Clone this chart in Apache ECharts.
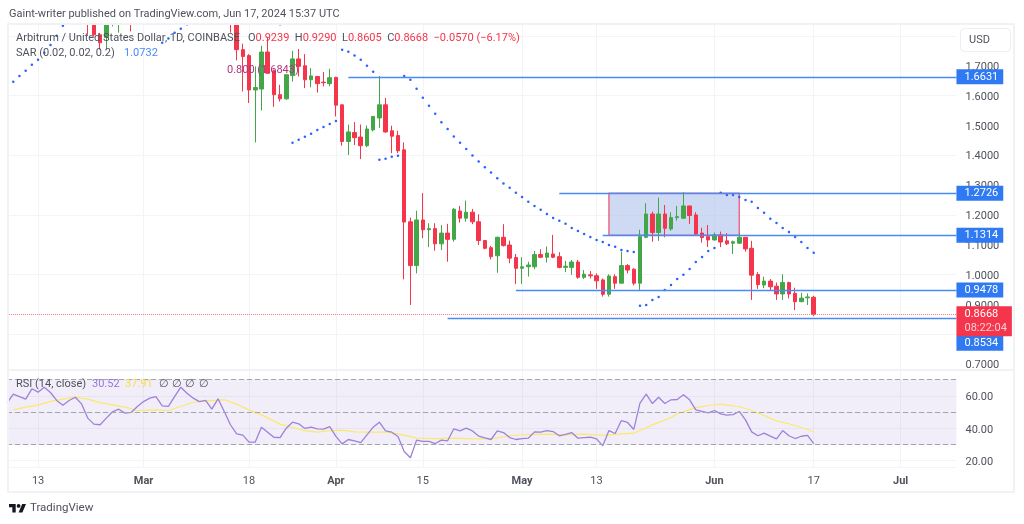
<!DOCTYPE html>
<html>
<head>
<meta charset="utf-8">
<title>ARB/USD</title>
<script src="https://cdn.jsdelivr.net/npm/echarts@6/dist/echarts.min.js"></script>
<style>
html, body { margin: 0; padding: 0; background: #fff; }
#chart { width: 1024px; height: 524px; }
</style>
</head>
<body>
<div id="chart"></div>
<script>
// one category per day, Feb 8 to Jul 10 2024
const firstDay = Date.UTC(2024, 1, 8)
const dayCount = 154
const days = []
for (let i = 0; i < dayCount; i++) {
  days.push(new Date(firstDay + i * 86400000).toISOString().slice(0, 10))
}

const tickDates = ['2024-02-13', '2024-03-01', '2024-03-18', '2024-04-01', '2024-04-15', '2024-05-01', '2024-05-13', '2024-06-01', '2024-06-17', '2024-07-01']
const tickLabels = ['13', 'Mar', '18', 'Apr', '15', 'May', '13', 'Jun', '17', 'Jul']
const monthLabels = ['Mar', 'Apr', 'May', 'Jun', 'Jul']

const priceTicks = [0.7, 0.8, 0.9, 1.0, 1.1, 1.2, 1.3, 1.4, 1.5, 1.6, 1.7]
const rsiTicks = [20, 40, 60]

// candles that poke in under the top edge, Feb 21 to Feb 28, tops capped at the pane top
const earlyStart = 13
const earlyOpens = [1.84, 1.84, 1.804, 1.795, 1.84, 1.84, null, 1.84]
const earlyCloses = [1.84, 1.804, 1.777, 1.84, 1.84, 1.84, null, 1.84]
const earlyLows = [1.804, 1.80, 1.754, 1.754, 1.832, 1.811, null, 1.815]
const earlyHighs = [1.84, 1.84, 1.81, 1.84, 1.84, 1.84, null, 1.84]

// main run of candles, Mar 15 to Jun 17
const candleStart = 36
const opens = [
  1.84, 1.84, 1.754, 1.734, 1.619, 1.622, 1.746, 1.683, 1.603, 1.589,
  1.667, 1.723, 1.700, 1.653, 1.664, 1.645, 1.640, 1.661, 1.569, 1.446,
  1.476, 1.461, 1.432, 1.485, 1.525, 1.569, 1.482, 1.466, 1.418, 1.177,
  1.030, 1.183, 1.150, 1.154, 1.103, 1.139, 1.118, 1.213, 1.189, 1.209,
  1.177, 1.114, 1.090, 1.063, 1.125, 1.099, 1.057, 1.021, 1.026, 1.026,
  1.067, 1.058, 1.069, 1.060, 1.024, 1.024, 1.042, 0.991, 0.999, 0.996,
  0.982, 0.934, 0.993, 0.971, 1.030, 1.018, 0.971, 1.125, 1.203, 1.141,
  1.203, 1.153, 1.191, 1.189, 1.230, 1.200, 1.139, 1.127, 1.116, 1.133,
  1.113, 1.105, 1.105, 1.125, 1.088, 1.000, 0.965, 0.978, 0.961, 0.935,
  0.973, 0.937, 0.909, 0.922, 0.9239
]
const closes = [
  1.84, 1.754, 1.731, 1.619, 1.627, 1.746, 1.675, 1.603, 1.589, 1.670,
  1.723, 1.698, 1.653, 1.666, 1.640, 1.643, 1.660, 1.568, 1.446, 1.478,
  1.459, 1.432, 1.488, 1.530, 1.569, 1.478, 1.464, 1.415, 1.176, 1.030,
  1.183, 1.150, 1.154, 1.103, 1.139, 1.118, 1.219, 1.189, 1.209, 1.177,
  1.114, 1.088, 1.060, 1.125, 1.097, 1.055, 1.021, 1.026, 1.032, 1.067,
  1.058, 1.072, 1.058, 1.024, 1.028, 1.042, 0.991, 1.001, 0.996, 0.979,
  0.934, 0.995, 0.971, 1.030, 1.015, 0.971, 1.127, 1.203, 1.141, 1.203,
  1.155, 1.191, 1.194, 1.230, 1.198, 1.136, 1.124, 1.116, 1.133, 1.109,
  1.103, 1.110, 1.125, 1.086, 0.998, 0.966, 0.978, 0.959, 0.935, 0.973,
  0.935, 0.909, 0.921, 0.925, 0.8668
]
const lows = [
  1.811, 1.718, 1.614, 1.575, 1.443, 1.550, 1.675, 1.562, 1.580, 1.586,
  1.647, 1.664, 1.625, 1.628, 1.610, 1.631, 1.631, 1.530, 1.432, 1.401,
  1.434, 1.387, 1.427, 1.480, 1.492, 1.476, 1.407, 1.407, 0.984, 0.898,
  1.004, 1.122, 1.092, 1.080, 1.082, 1.043, 1.110, 1.174, 1.177, 1.169,
  1.099, 1.085, 1.051, 1.006, 1.094, 1.038, 0.968, 0.968, 0.993, 1.018,
  1.055, 1.040, 1.055, 1.021, 1.008, 0.999, 0.986, 0.985, 0.987, 0.952,
  0.926, 0.926, 0.952, 0.971, 1.004, 0.964, 0.948, 1.122, 1.110, 1.113,
  1.125, 1.147, 1.181, 1.186, 1.170, 1.133, 1.107, 1.092, 1.114, 1.092,
  1.099, 1.069, 1.103, 1.077, 0.915, 0.952, 0.954, 0.945, 0.915, 0.915,
  0.920, 0.881, 0.908, 0.898, 0.8605
]
const highs = [
  1.84, 1.84, 1.774, 1.739, 1.698, 1.767, 1.794, 1.687, 1.636, 1.670,
  1.750, 1.756, 1.739, 1.692, 1.666, 1.679, 1.690, 1.663, 1.569, 1.503,
  1.511, 1.503, 1.500, 1.530, 1.666, 1.592, 1.499, 1.482, 1.443, 1.191,
  1.214, 1.273, 1.172, 1.172, 1.166, 1.170, 1.223, 1.230, 1.248, 1.220,
  1.202, 1.116, 1.096, 1.127, 1.169, 1.114, 1.069, 1.058, 1.043, 1.079,
  1.085, 1.094, 1.133, 1.075, 1.046, 1.049, 1.049, 1.015, 1.012, 1.004,
  0.987, 1.001, 1.001, 1.077, 1.035, 1.021, 1.150, 1.239, 1.211, 1.258,
  1.233, 1.209, 1.230, 1.276, 1.230, 1.209, 1.157, 1.166, 1.141, 1.144,
  1.139, 1.114, 1.139, 1.125, 1.113, 1.008, 0.993, 0.985, 0.973, 1.001,
  0.976, 0.956, 0.939, 0.937, 0.9290
]

// parabolic SAR, null where the dot sits off the chart
const sarValues = [
  null, 1.646, 1.666, 1.683, 1.703, 1.720, 1.744, 1.770, 1.801, 1.834,
  null, null, null, null, null, null, null, null, null, null,
  null, null, null, null, null, 1.777, 1.791, 1.811, 1.824, 1.839,
  null, null, null, null, null, null, null, null, null, null,
  null, null, null, null, 1.839, null, 1.442, 1.452, 1.462, 1.472,
  1.485, 1.495, 1.505, 1.515, 1.754, 1.747, 1.734, 1.720, 1.700, 1.680,
  1.385, 1.388, 1.395, 1.398, 1.666, 1.653, 1.623, 1.593, 1.566, 1.539,
  1.511, 1.488, 1.463, 1.442, 1.421, 1.399, 1.379, 1.360, 1.342, 1.323,
  1.305, 1.291, 1.274, 1.260, 1.244, 1.230, 1.217, 1.203, 1.190, 1.180,
  1.170, 1.156, 1.146, 1.136, 1.126, 1.116, 1.109, 1.099, 1.093, 1.082,
  1.079, 1.076, 0.895, 0.898, 0.915, 0.925, 0.948, 0.965, 0.985, 0.999,
  1.019, 1.042, 1.059, 1.079, 1.089, 1.274, 1.267, 1.267, 1.260, 1.250,
  1.244, 1.223, 1.207, 1.187, 1.173, 1.156, 1.143, 1.126, 1.109, 1.089,
  1.0732
]

const rsiValues = [
  55.5, 61.1, 59.6, 58.0, 64.4, 62.3, 65.4, 62.1, 57.2, 54.3,
  57.2, 59.2, 55.1, 46.3, 42.6, 42.2, 46.3, 50.2, 51.8, 49.4,
  49.8, 53.5, 56.5, 58.6, 59.6, 53.9, 53.5, 59.6, 65.4, 61.7,
  58.6, 56.5, 57.2, 51.8, 58.2, 50.4, 42.2, 36.6, 35.8, 31.5,
  31.5, 40.7, 37.6, 34.5, 34.3, 40.1, 43.8, 42.8, 39.9, 40.7,
  39.7, 39.5, 41.1, 35.0, 30.4, 33.1, 32.3, 31.2, 36.0, 40.7,
  43.8, 38.4, 37.6, 35.0, 25.7, 21.8, 32.7, 31.9, 31.9, 30.6,
  32.7, 32.3, 39.7, 38.4, 40.1, 38.4, 35.2, 34.1, 33.1, 38.4,
  37.4, 34.3, 33.1, 33.7, 33.9, 37.8, 37.6, 38.6, 38.0, 35.4,
  36.2, 37.4, 33.9, 34.3, 34.5, 33.5, 29.2, 38.6, 36.8, 44.8,
  43.6, 39.3, 55.5, 61.1, 55.3, 59.2, 55.3, 57.6, 57.8, 60.7,
  57.6, 51.4, 50.4, 49.6, 51.0, 48.9, 48.1, 48.5, 50.4, 45.2,
  37.8, 35.4, 37.0, 35.2, 33.5, 38.6, 35.4, 33.7, 35.1, 35.6,
  30.52
]

// RSI moving average, read every few days
const rsiMaDays = [
  1, 3, 5, 7, 9, 11, 13, 15, 17, 19, 21, 24, 26, 28, 30, 32, 35, 37, 39, 41,
  44, 46, 48, 50, 52, 54, 56, 59, 61, 63, 66, 69, 72, 75, 78, 81, 84, 87, 90, 93,
  96, 99, 101, 104, 107, 108, 111, 113, 115, 118, 120, 122, 124, 126, 128, 130
]
const rsiMaValues = [
  51.4, 53.1, 54.3, 56.6, 58.0, 59.2, 58.0, 55.9, 54.5, 53.1, 51.0, 51.4, 51.0, 53.5, 56.1, 57.0, 57.6, 54.9, 51.4, 48.3,
  42.6, 40.5, 38.6, 37.6, 38.6, 38.9, 37.8, 37.6, 37.6, 36.6, 33.9, 33.7, 33.9, 33.5, 33.5, 35.4, 36.2, 36.4, 36.0, 36.4,
  35.6, 36.6, 37.0, 42.1, 46.7, 48.9, 52.8, 54.1, 54.9, 53.3, 51.0, 47.9, 44.6, 42.8, 40.5, 37.91
]

const rsiLevels = [70, 50, 30]

// drawn levels, from the first day they start on
const levelPrices = [1.6631, 1.2726, 1.1314, 0.9478, 0.8534]
const levelStarts = [55, 89, 96, 82, 71]
const levelTagShift = [0, 0, 0, 0, 25]

const lastPrice = 0.8668
const countdown = '08:22:04'

const boxStart = 97
const boxEnd = 118

const upColor = '#43a748'
const downColor = '#f5354b'
const blue = '#4a8af5'
const gridColor = '#f3f4f6'
const textColor = '#4f525c'
const fontName = 'Roboto, "Noto Sans", sans-serif'

const lastDay = days[dayCount - 1]

// nudges the right axis labels down to sit on their grid lines
const axisRich = { a: { color: textColor, fontSize: 11, fontFamily: fontName, padding: [3, 0, 0, 0] } }

function tickShown(idx) {
  return tickDates.indexOf(days[idx]) >= 0
}

function buildCandles() {
  const rows = days.map(() => '-')
  earlyOpens.forEach((o, i) => {
    if (o !== null) rows[earlyStart + i] = [o, earlyCloses[i], earlyLows[i], earlyHighs[i]]
  })
  opens.forEach((o, i) => {
    rows[candleStart + i] = [o, closes[i], lows[i], highs[i]]
  })
  return rows
}

function levelLine(price, startIdx, shift) {
  const line = { color: blue, type: 'solid', width: 1.3 }
  return [
    {
      coord: [days[startIdx], price],
      lineStyle: line,
      label: {
        show: true,
        position: 'end',
        distance: 0,
        offset: [0, shift],
        formatter: price.toFixed(4),
        color: '#fff',
        fontFamily: fontName,
        fontSize: 11,
        lineHeight: 13,
        backgroundColor: '#2f79f3',
        padding: [1, 5, 1, 8]
      }
    },
    { coord: [lastDay, price], lineStyle: line }
  ]
}

function lastPriceLine() {
  const line = { color: '#f77a88', type: 'dotted', width: 1 }
  return [
    {
      coord: [days[0], lastPrice],
      lineStyle: line,
      label: {
        show: true,
        position: 'end',
        distance: 0,
        offset: [0, 7],
        formatter: '{p|' + lastPrice.toFixed(4) + '}\n{t|' + countdown + '}',
        backgroundColor: downColor,
        padding: [1, 5, 1, 8],
        rich: {
          p: { color: '#fff', fontSize: 11, lineHeight: 14, fontFamily: fontName },
          t: { color: '#ffd0d6', fontSize: 11, lineHeight: 14, fontFamily: fontName }
        }
      }
    },
    { coord: [lastDay, lastPrice], lineStyle: line }
  ]
}

function plotText(x, y, text, color, size, extra) {
  return {
    type: 'text',
    x: x,
    y: y,
    z: 50,
    silent: true,
    style: Object.assign({
      text: text,
      fill: color,
      fontFamily: fontName,
      fontSize: size,
      verticalAlign: 'middle'
    }, extra || {})
  }
}

const chart = echarts.init(document.getElementById('chart'))

chart.setOption({
  animation: false,
  backgroundColor: '#fff',
  textStyle: { fontFamily: fontName },
  grid: [
    { left: 7.05, width: 949.4, top: 24, height: 346 },
    { left: 7.05, width: 949.4, top: 370, height: 97.2 }
  ],
  xAxis: [
    {
      type: 'category',
      gridIndex: 0,
      data: days,
      boundaryGap: false,
      axisLine: { show: false },
      axisTick: { show: false },
      axisLabel: { show: false },
      splitLine: { show: true, interval: tickShown, lineStyle: { color: gridColor } }
    },
    {
      type: 'category',
      gridIndex: 1,
      data: days,
      boundaryGap: false,
      axisLine: { show: false },
      axisTick: { show: false },
      splitLine: { show: true, interval: tickShown, lineStyle: { color: gridColor } },
      axisLabel: {
        interval: tickShown,
        margin: 9,
        color: textColor,
        fontSize: 11,
        formatter: value => {
          const label = tickLabels[tickDates.indexOf(value)]
          return monthLabels.indexOf(label) >= 0 ? '{m|' + label + '}' : label
        },
        rich: { m: { fontWeight: 'bold', color: textColor, fontSize: 11 } }
      }
    }
  ],
  yAxis: [
    {
      type: 'value',
      gridIndex: 0,
      position: 'right',
      min: 0.68,
      max: 1.84,
      axisLine: { show: false },
      axisTick: { show: false },
      axisLabel: {
        customValues: priceTicks,
        margin: 9,
        formatter: v => '{a|' + v.toFixed(4) + '}',
        rich: axisRich
      },
      splitLine: { show: true, customValues: priceTicks, lineStyle: { color: gridColor } }
    },
    {
      type: 'value',
      gridIndex: 1,
      position: 'right',
      min: 16,
      max: 76,
      axisLine: { show: false },
      axisTick: { show: false },
      axisLabel: {
        customValues: rsiTicks,
        margin: 9,
        formatter: v => '{a|' + v.toFixed(2) + '}',
        rich: axisRich
      },
      splitLine: { show: true, customValues: rsiTicks, lineStyle: { color: gridColor } }
    }
  ],
  series: [
    {
      type: 'candlestick',
      name: 'ARBUSD',
      xAxisIndex: 0,
      yAxisIndex: 0,
      barWidth: 4,
      data: buildCandles(),
      itemStyle: {
        color: upColor,
        color0: downColor,
        borderColor: upColor,
        borderColor0: downColor,
        borderWidth: 1
      },
      markArea: {
        silent: true,
        itemStyle: {
          color: 'rgba(180,197,238,0.65)',
          borderColor: '#ec6a85',
          borderWidth: 1.5
        },
        data: [[
          { coord: [days[boxStart], levelPrices[1]] },
          { coord: [days[boxEnd], levelPrices[2]] }
        ]]
      }
    },
    {
      // carries only the level lines and their tags
      type: 'line',
      name: 'Levels',
      xAxisIndex: 0,
      yAxisIndex: 0,
      data: [],
      silent: true,
      z: 5,
      markLine: {
        silent: true,
        symbol: 'none',
        data: levelPrices.map((p, i) => levelLine(p, levelStarts[i], levelTagShift[i])).concat([lastPriceLine()])
      }
    },
    {
      type: 'scatter',
      name: 'SAR',
      xAxisIndex: 0,
      yAxisIndex: 0,
      symbol: 'circle',
      symbolSize: 2.5,
      z: 4,
      silent: true,
      itemStyle: { color: '#2962ff', opacity: 1 },
      data: sarValues
    },
    {
      type: 'line',
      name: 'RSI',
      xAxisIndex: 1,
      yAxisIndex: 1,
      data: rsiValues,
      showSymbol: false,
      silent: true,
      z: 4,
      lineStyle: { color: '#9d82da', width: 1.3 },
      markArea: {
        silent: true,
        itemStyle: { color: 'rgba(126,87,194,0.1)' },
        data: [[
          { coord: [days[0], rsiLevels[0]] },
          { coord: [lastDay, rsiLevels[2]] }
        ]]
      },
      markLine: {
        silent: true,
        symbol: 'none',
        label: { show: false },
        lineStyle: { color: '#a3a5ad', type: [5, 3], width: 1 },
        data: rsiLevels.map(v => ({ yAxis: v }))
      }
    },
    {
      type: 'line',
      name: 'RSI MA',
      xAxisIndex: 1,
      yAxisIndex: 1,
      data: rsiMaDays.map((d, i) => [days[d], rsiMaValues[i]]),
      showSymbol: false,
      silent: true,
      z: 3,
      lineStyle: { color: '#fbe96a', width: 1.2 }
    }
  ],
  graphic: [
    // panel frame and pane separator
    { type: 'rect', z: 40, silent: true, shape: { x: 8, y: 24, width: 1006, height: 468 }, style: { fill: 'none', stroke: '#f0f2f6', lineWidth: 2 } },
    { type: 'line', z: 40, silent: true, shape: { x1: 8, y1: 370, x2: 1014, y2: 370 }, style: { stroke: '#f0f2f6', lineWidth: 2 } },

    plotText(9, 14, 'Gaint-writer published on TradingView.com, Jun 17, 2024 15:37 UTC', textColor, 11),

    plotText(16, 38.5, 'Arbitrum / United States Dollar, 1D, COINBASE', textColor, 11),
    plotText(248, 38.5, 'O{r|0.9239}  H{r|0.9290}  L{r|0.8605}  C{r|0.8668}  {r|\u22120.0570 (\u22126.17%)}', textColor, 11, {
      rich: { r: { fill: downColor, fontSize: 11, fontFamily: fontName } }
    }),
    plotText(16, 53.5, 'SAR (0.02, 0.02, 0.2)', textColor, 11),
    plotText(124, 53.5, '1.0732', blue, 11),
    plotText(227, 70, '0.800 (1.6843)', '#b0347f', 11),

    plotText(16, 384.5, 'RSI (14, close)', textColor, 11),
    plotText(92, 384.5, '30.52', '#9677d6', 11),
    plotText(125, 384.5, '37.91', '#f5dc4a', 11),
    plotText(159, 384.5, '\u2205', textColor, 11),
    plotText(172, 384.5, '\u2205', textColor, 11),
    plotText(185, 384.5, '\u2205', textColor, 11),
    plotText(199, 384.5, '\u2205', textColor, 11),

    // currency button
    { type: 'rect', z: 40, silent: true, shape: { x: 960.5, y: 28.5, width: 50, height: 23, r: 4 }, style: { fill: '#fff', stroke: '#eceef2', lineWidth: 1 } },
    plotText(969, 40.5, 'USD', textColor, 11),

    // footer logo
    { type: 'polygon', z: 50, silent: true, shape: { points: [[9, 504], [15.7, 504], [15.7, 512.6], [12.35, 512.6], [12.35, 507.3], [9, 507.3]] }, style: { fill: '#131722' } },
    { type: 'polygon', z: 50, silent: true, shape: { points: [[22.4, 512.6], [18.6, 512.6], [22.2, 504], [26, 504]] }, style: { fill: '#131722' } },
    { type: 'circle', z: 50, silent: true, shape: { cx: 18.6, cy: 505.9, r: 1.9 }, style: { fill: '#131722' } },
    plotText(30, 508.5, 'TradingView', textColor, 11.5)
  ]
})
</script>
</body>
</html>
